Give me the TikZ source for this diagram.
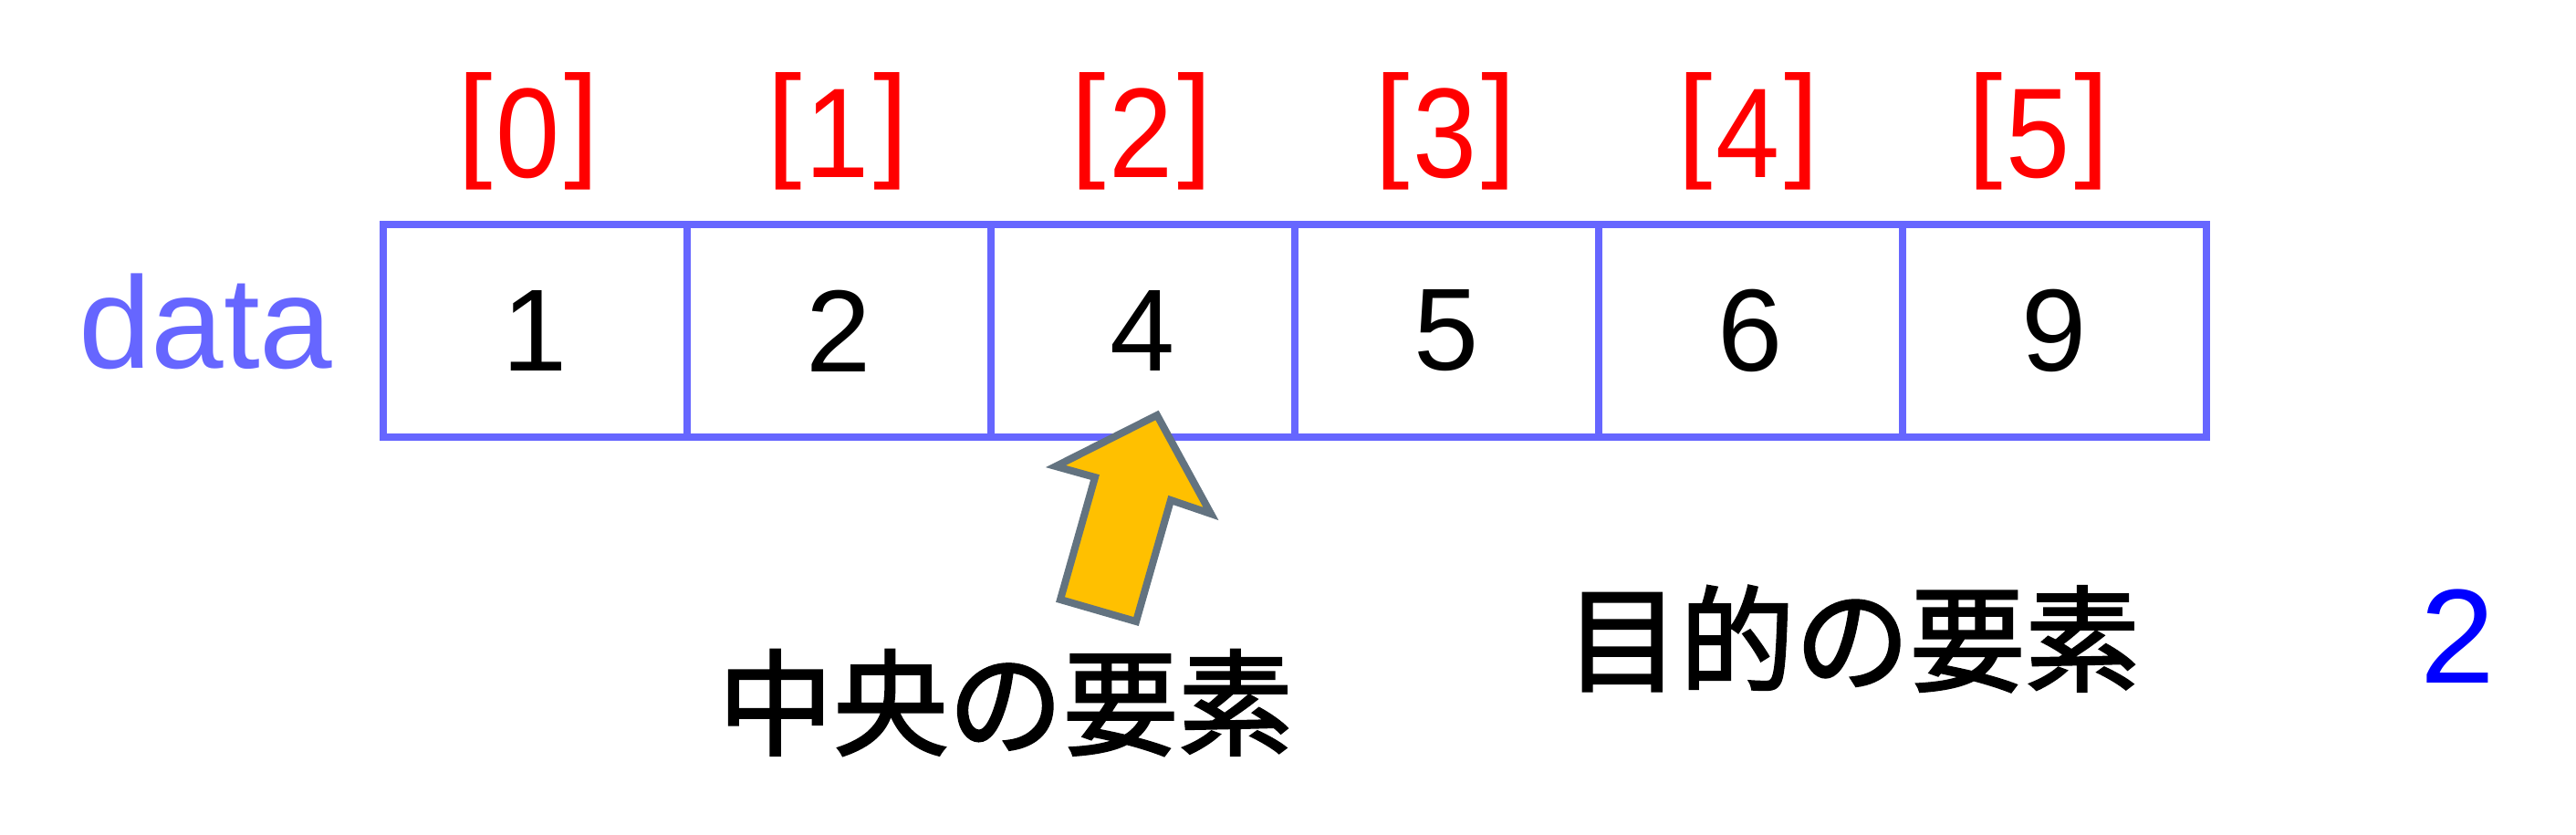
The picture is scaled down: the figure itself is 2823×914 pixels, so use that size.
\documentclass[tikz,border=0pt]{standalone}
\usepackage{fontspec}
\setmainfont{Liberation Sans}
\newfontfamily\jpfont[FakeBold=2]{Noto Sans CJK JP}
\newfontfamily\idxfont[FakeStretch=0.9]{Liberation Sans}
\definecolor{boxblue}{HTML}{6666FF}
\definecolor{idxred}{HTML}{FF0000}
\definecolor{valblue}{HTML}{0000FF}
\definecolor{arrfill}{HTML}{FFC000}
\definecolor{arrline}{HTML}{637380}
\newcommand\idxlab[1]{{\fontsize{138}{160}\selectfont\raisebox{15pt}{[}}\hspace{4pt}{\idxfont\fontsize{140}{160}\selectfont #1}\hspace{4pt}{\fontsize{138}{160}\selectfont\raisebox{15pt}{]}}}
\begin{document}
\begin{tikzpicture}[x=1pt,y=-1pt,
  cell/.style={draw=boxblue,line width=8pt,minimum width=333pt,minimum height=233pt,inner sep=0pt,font=\fontsize{128}{150}\selectfont},
  idx/.style={anchor=base,inner sep=0pt,text=idxred},
  jp/.style={inner sep=0pt,font=\jpfont\fontsize{126}{150}\selectfont},
  bigarrow/.style={draw=arrline,fill=arrfill,line width=8pt,line join=miter}]
\useasboundingbox (0,0) rectangle (2823,914);
\fill[white] (0,0) rectangle (2823,914);
% cells
\foreach \v [count=\i from 0] in {1,2,4,5,6,9}{
  \node[cell] (c\i) at ({420+333*(\i+0.5)},362.5) {\v};
}
% indices
\node[idx] (i0) at (579,194) {\idxlab{0}};
\node[idx] (i1) at (918,194) {\idxlab{1}};
\node[idx] (i2) at (1251,194) {\idxlab{2}};
\node[idx] (i3) at (1584,194) {\idxlab{3}};
\node[idx] (i4) at (1916,194) {\idxlab{4}};
\node[idx] (i5) at (2234,194) {\idxlab{5}};
% data label
\node[anchor=base west,inner sep=0pt,text=boxblue,font=\fontsize{143}{160}\selectfont] (data) at (86,403) {data};
% arrow
\draw[bigarrow] (1268,455) -- (1327,563) -- (1283,548) -- (1245,681) -- (1162,657) -- (1200,523) -- (1157,511) -- cycle;
% texts
\node[jp] (mid) at (1102,770) {中央の要素};
\node[jp] (target) at (2030,700) {目的の要素};
\node[anchor=base,inner sep=0pt,text=valblue,font=\fontsize{147}{160}\selectfont] (tval) at (2693,748) {2};
\end{tikzpicture}
\end{document}
